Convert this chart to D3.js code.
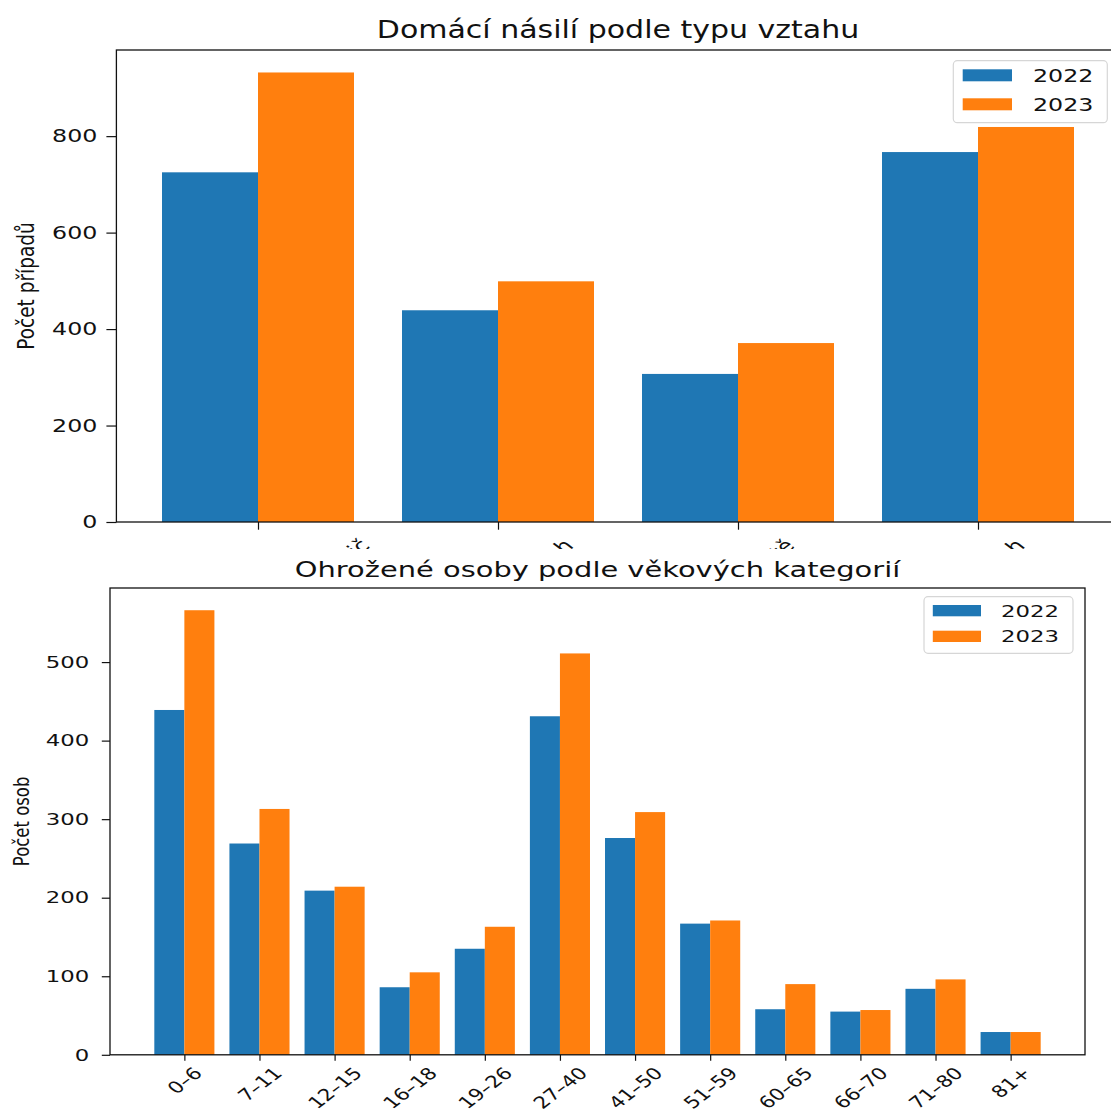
<!DOCTYPE html>
<html>
<head>
<meta charset="utf-8">
<script src="https://cdn.jsdelivr.net/npm/d3@7"></script>
<style>
body{margin:0;background:#fff}
svg{display:block}
text{font-family:"DejaVu Sans",sans-serif;fill:#111}
</style>
</head>
<body>
<svg id="chart" width="1111" height="1115"></svg>
<script>
// data
const years = ["2022", "2023"];
const relTypes = ["Dospělý potomek → rodič", "Partnerský vztah", "Rodič → dítě", "Jiný vztah"];
const rel2022 = [725, 439, 307, 767];
const rel2023 = [932, 499, 371, 819];
const relTicks = [0, 200, 400, 600, 800];

const ageGroups = ["0–6", "7–11", "12–15", "16–18", "19–26", "27–40", "41–50", "51–59", "60–65", "66–70", "71–80", "81+"];
const age2022 = [439, 269, 209, 86, 135, 431, 276, 167, 58, 55, 84, 29];
const age2023 = [566, 313, 214, 105, 163, 511, 309, 171, 90, 57, 96, 29];
const ageTicks = [0, 100, 200, 300, 400, 500];

const colors = ["#1f77b4", "#ff7f0e"];

const svg = d3.select("#chart");

// top picture is cut off just under the axis
svg.append("defs").append("clipPath").attr("id", "topClip")
  .append("rect").attr("x", 0).attr("y", 0).attr("width", 1111).attr("height", 549);

function panel(o) {
  const g = svg.append("g");
  if (o.clip) g.attr("clip-path", "url(#" + o.clip + ")");
  const n = o.cats.length;
  const m = 0.05 * (n - 1 + 0.8);
  const x = d3.scaleLinear().domain([-0.4 - m, n - 1 + 0.4 + m]).range([o.left, o.right]);
  const ymax = d3.max(o.series.flat()) * 1.05;
  const y = d3.scaleLinear().domain([0, ymax]).range([o.bottom, o.top]);
  const bw = x(0.4) - x(0);

  // bars
  o.series.forEach((vals, k) => {
    g.append("g").selectAll("rect")
      .data(vals)
      .enter()
      .append("rect")
      .attr("x", (d, i) => x(i - 0.4 + k * 0.4))
      .attr("y", d => y(d))
      .attr("width", bw)
      .attr("height", d => y(0) - y(d))
      .attr("fill", colors[k]);
  });

  // y axis
  const ya = g.append("g").attr("transform", `translate(${o.left},0)`)
    .call(d3.axisLeft(y).tickValues(o.yTicks).tickSize(o.tickY).tickPadding(0));
  ya.select(".domain").remove();
  ya.selectAll("line").attr("stroke", "#111").attr("stroke-width", 1.2);
  ya.selectAll("text")
    .attr("x", 0)
    .attr("font-size", o.fs)
    .attr("font-family", "DejaVu Sans")
    .attr("transform", `translate(${-(o.tickY + o.gapY)},0) scale(${o.sx},1)`);

  // x axis, rotated labels centred under the tick like matplotlib
  const xa = g.append("g").attr("transform", `translate(0,${o.bottom})`)
    .call(d3.axisBottom(x).tickValues(d3.range(n)).tickSize(o.tickX).tickFormat(i => o.cats[i]));
  xa.select(".domain").remove();
  xa.selectAll("line").attr("stroke", "#111").attr("stroke-width", 1.2);
  xa.selectAll(".tick").each(function (d, i) {
    const t = d3.select(this);
    t.select("text").remove();
    const lab = t.append("g").attr("transform", `translate(0,${o.tickX + o.padX}) scale(${o.xsx},1)`);
    const txt = lab.append("text")
      .attr("text-anchor", "middle")
      .attr("font-size", o.xFs)
      .attr("font-family", "DejaVu Sans")
      .attr("fill", "#111")
      .attr("transform", "rotate(-45)")
      .text(o.cats[i]);
    const bb = lab.node().getBBox();
    txt.attr("transform", `translate(${-(bb.x + bb.width / 2)},${-bb.y}) rotate(-45)`);
  });

  // frame
  g.append("rect")
    .attr("x", o.left).attr("y", o.top)
    .attr("width", o.right - o.left).attr("height", o.bottom - o.top)
    .attr("fill", "none").attr("stroke", "#111").attr("stroke-width", 1.3);

  // title
  g.append("text")
    .attr("text-anchor", "middle")
    .attr("font-size", o.titleFs)
    .attr("transform", `translate(${(o.left + o.right) / 2},${o.titleY}) scale(${o.titleSx},1)`)
    .text(o.title);

  // y label
  g.append("text")
    .attr("text-anchor", "middle")
    .attr("font-size", o.labFs)
    .attr("transform", `translate(${o.labX},${(o.top + o.bottom) / 2}) scale(${o.labSx},1) rotate(-90)`)
    .text(o.ylabel);

  // legend
  const L = o.legend;
  const lg = g.append("g");
  lg.append("rect")
    .attr("x", L.x).attr("y", L.y).attr("width", L.w).attr("height", L.h)
    .attr("rx", 4).attr("fill", "#fff").attr("fill-opacity", 0.8)
    .attr("stroke", "#d6d6d6").attr("stroke-width", 1.2);
  years.forEach((yr, k) => {
    lg.append("rect")
      .attr("x", L.x + L.padX)
      .attr("y", L.y + L.patchY0 + k * L.rowH)
      .attr("width", L.patchW).attr("height", L.patchH)
      .attr("fill", colors[k]);
    lg.append("text")
      .attr("font-size", o.fs)
      .attr("transform", `translate(${L.textX},${L.y + L.baseY0 + k * L.rowH}) scale(${o.sx},1)`)
      .text(yr);
  });
}

panel({
  clip: "topClip",
  cats: relTypes, series: [rel2022, rel2023], yTicks: relTicks,
  left: 116.4, right: 1119.6, top: 50, bottom: 522,
  fs: 18, sx: 1.32, xFs: 18, xsx: 1.32, tickY: 10, gapY: 9, tickX: 7.7, padX: 5,
  title: "Domácí násilí podle typu vztahu", titleFs: 24, titleSx: 1.25, titleY: 37.7,
  ylabel: "Počet případů", labFs: 18.5, labSx: 1.2, labX: 34,
  legend: {x: 953.3, y: 60.7, w: 154, h: 62, padX: 9.4, patchW: 49.3, patchH: 12,
           patchY0: 8.6, rowH: 29, textX: 1033, baseY0: 21}
});

panel({
  cats: ageGroups, series: [age2022, age2023], yTicks: ageTicks,
  left: 110, right: 1085, top: 588, bottom: 1054.8,
  fs: 16.5, sx: 1.38, xFs: 16.5, xsx: 1.3, tickY: 8.2, gapY: 12.6, tickX: 6, padX: 2.5,
  title: "Ohrožené osoby podle věkových kategorií", titleFs: 20.5, titleSx: 1.41, titleY: 576.7,
  ylabel: "Počet osob", labFs: 16.5, labSx: 1.3, labX: 29,
  legend: {x: 924, y: 596.7, w: 149, h: 56.6, padX: 8.8, patchW: 48.2, patchH: 11.3,
           patchY0: 8.3, rowH: 25.7, textX: 1001, baseY0: 20}
});
</script>
</body>
</html>
